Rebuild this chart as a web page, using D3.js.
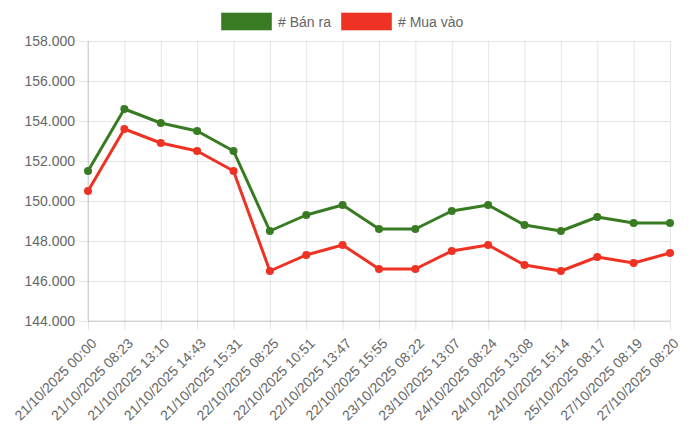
<!DOCTYPE html>
<html>
<head>
<meta charset="UTF-8">
<title>Bán ra / Mua vào</title>
<script src="https://cdn.jsdelivr.net/npm/d3@7"></script>
<style>
  body { margin: 0; background: #fff; }
  svg { font-family: "Helvetica Neue", Helvetica, Arial, "Liberation Sans", sans-serif; }
  .grid line { stroke: rgba(0,0,0,0.1); }
  .tick text { fill: #666; }
</style>
</head>
<body>
<svg id="chart" width="700" height="433"></svg>
<script>
const labels = [
  "21/10/2025 00:00", "21/10/2025 08:23", "21/10/2025 13:10", "21/10/2025 14:43",
  "21/10/2025 15:31", "22/10/2025 08:25", "22/10/2025 10:51", "22/10/2025 13:47",
  "22/10/2025 15:55", "23/10/2025 08:22", "23/10/2025 13:07", "24/10/2025 08:24",
  "24/10/2025 13:08", "24/10/2025 15:14", "25/10/2025 08:17", "27/10/2025 08:19",
  "27/10/2025 08:20"
]
const banRa = [151.5, 154.6, 153.9, 153.5, 152.5, 148.5, 149.3, 149.8, 148.6, 148.6, 149.5, 149.8, 148.8, 148.5, 149.2, 148.9, 148.9]
const muaVao = [150.5, 153.6, 152.9, 152.5, 151.5, 146.5, 147.3, 147.8, 146.6, 146.6, 147.5, 147.8, 146.8, 146.5, 147.2, 146.9, 147.4]
const yTicks = [144, 146, 148, 150, 152, 154, 156, 158]

const series = [
  { name: "# Bán ra", values: banRa, color: "#387b22" },
  { name: "# Mua vào", values: muaVao, color: "#ee3224" }
]

const margin = { top: 41, right: 30, bottom: 112, left: 88 }
const width = 700, height = 433
const svg = d3.select("#chart")

const x = d3.scalePoint()
  .domain(labels)
  .range([margin.left, width - margin.right])

const y = d3.scaleLinear()
  .domain([144, 158])
  .range([height - margin.bottom, margin.top])

const fmt = d => d3.format(".3f")(d)

// horizontal grid + y labels
svg.append("g")
  .attr("class", "grid")
  .attr("transform", `translate(${margin.left},0)`)
  .call(d3.axisLeft(y).tickValues(yTicks).tickFormat(fmt)
    .tickSize(-(width - margin.left - margin.right)).tickPadding(13))
  .call(g => g.select(".domain").remove())
  .call(g => g.selectAll(".tick line").attr("x1", -9).attr("x2", width - margin.left - margin.right))
  .call(g => g.selectAll(".tick text").attr("font-size", 14))

// vertical grid + x labels
svg.append("g")
  .attr("class", "grid")
  .attr("transform", `translate(0,${height - margin.bottom})`)
  .call(d3.axisBottom(x).tickSize(0))
  .call(g => g.select(".domain").remove())
  .call(g => g.selectAll(".tick line")
    .attr("y1", -(height - margin.bottom - margin.top)).attr("y2", 9))
  .call(g => g.selectAll(".tick text")
    .attr("font-size", 14)
    .attr("text-anchor", "end")
    .attr("dy", 0)
    .attr("transform", "translate(7,21) rotate(-45)"))

// axis lines slightly darker
svg.append("line")
  .attr("x1", margin.left).attr("x2", width - margin.right)
  .attr("y1", y(144)).attr("y2", y(144))
  .attr("stroke", "rgba(0,0,0,0.15)")
svg.append("line")
  .attr("x1", margin.left).attr("x2", margin.left)
  .attr("y1", y(158)).attr("y2", y(144))
  .attr("stroke", "rgba(0,0,0,0.15)")

const line = d3.line()
  .x((d, i) => x(labels[i]))
  .y(d => y(d))

series.forEach(s => {
  svg.append("path")
    .datum(s.values)
    .attr("fill", "none")
    .attr("stroke", s.color)
    .attr("stroke-width", 3)
    .attr("stroke-linejoin", "round")
    .attr("d", line)
  svg.append("g")
    .selectAll("circle")
    .data(s.values)
    .join("circle")
    .attr("cx", (d, i) => x(labels[i]))
    .attr("cy", d => y(d))
    .attr("r", 4)
    .attr("fill", s.color)
})

// legend
const legendItems = [
  { x: 221, textX: 278 },
  { x: 341, textX: 398 }
]
const legend = svg.append("g")
series.forEach((s, i) => {
  legend.append("rect")
    .attr("x", legendItems[i].x).attr("y", 12.5)
    .attr("width", 51).attr("height", 18)
    .attr("fill", s.color)
    .attr("stroke", "rgba(255,255,255,0.4)")
  legend.append("text")
    .attr("x", legendItems[i].textX).attr("y", 26.5)
    .attr("font-size", 14)
    .attr("fill", "#666")
    .text(s.name)
})
</script>
</body>
</html>
